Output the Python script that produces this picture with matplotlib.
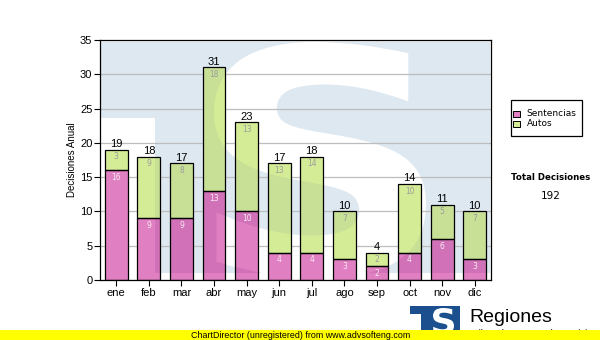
import matplotlib
matplotlib.use("Agg")
import matplotlib.pyplot as plt
import numpy as np
from matplotlib.patches import Rectangle, PathPatch, Polygon
from matplotlib.path import Path
from matplotlib.textpath import TextPath
from matplotlib.font_manager import FontProperties
from matplotlib.transforms import Affine2D

# Monthly decisions
months = ["ene", "feb", "mar", "abr", "may", "jun",
          "jul", "ago", "sep", "oct", "nov", "dic"]
sentencias = [16, 9, 9, 13, 10, 4, 4, 3, 2, 4, 6, 3]
autos = [3, 9, 8, 18, 13, 13, 14, 7, 2, 10, 5, 7]
series_names = ["Sentencias", "Autos"]
y_ticks = [0, 5, 10, 15, 20, 25, 30, 35]

PINK, PINK_D = "#e07fc1", "#d172b8"
GREEN, GREEN_D = "#d5ec97", "#c8e096"
WATER = "#dee8f0"

plt.rcParams["font.family"] = ["Liberation Sans", "DejaVu Sans"]

W, H = 600, 340
fig = plt.figure(figsize=(W / 100, H / 100), dpi=100)
fig.patch.set_facecolor("white")
# pixel coordinates measured from the top-left corner
pxT = Affine2D().scale(1 / W, -1 / H).translate(0, 1) + fig.transFigure


def fx(v):
    return v / W


def fy(v):
    return 1 - v / H


def glyph_in_box(ch, x0, y0, x1, y1, family="DejaVu Sans", weight="bold"):
    tp = TextPath((0, 0), ch, size=100,
                  prop=FontProperties(family=family, weight=weight))
    ext = tp.get_extents()
    v = tp.vertices.copy()
    nv = np.empty_like(v)
    nv[:, 0] = x0 + (v[:, 0] - ext.x0) / ext.width * (x1 - x0)
    nv[:, 1] = y0 + (ext.y1 - v[:, 1]) / ext.height * (y1 - y0)
    return Path(nv, tp.codes)


ax = fig.add_axes([100 / W, (H - 280) / H, 391 / W, 240 / H])
ax.set_facecolor("white")

# "TS" watermark behind the bars
blue_patch = Polygon([(101, 42), (490, 42), (490, 273), (155, 273),
                      (155, 118), (101, 118)], closed=True,
                     transform=pxT, fc=WATER, ec="none", zorder=0.2)
ax.add_patch(blue_patch)
s_patch = PathPatch(glyph_in_box("S", 214, 42, 426, 278), transform=pxT,
                    fc="white", ec="none", zorder=0.3)
ax.add_patch(s_patch)

x = np.arange(len(months))
totals = [s + a for s, a in zip(sentencias, autos)]
bw = 0.70

# base bars, then tinted copies where the watermark shows through
ax.bar(x, sentencias, width=bw, color=PINK, lw=0, zorder=2)
ax.bar(x, autos, bottom=sentencias, width=bw, color=GREEN, lw=0, zorder=2)
d1 = ax.bar(x, sentencias, width=bw, color=PINK_D, lw=0, zorder=2.1)
d2 = ax.bar(x, autos, bottom=sentencias, width=bw, color=GREEN_D, lw=0, zorder=2.1)
for r in list(d1) + list(d2):
    r.set_clip_path(blue_patch)
l1 = ax.bar(x, sentencias, width=bw, color=PINK, lw=0, zorder=2.2)
l2 = ax.bar(x, autos, bottom=sentencias, width=bw, color=GREEN, lw=0, zorder=2.2)
for r in list(l1) + list(l2):
    r.set_clip_path(s_patch)
ax.bar(x, sentencias, width=bw, fill=False, edgecolor="black", lw=0.9, zorder=3)
ax.bar(x, autos, bottom=sentencias, width=bw, fill=False, edgecolor="black",
       lw=0.9, zorder=3)

for i in x:
    ax.annotate(str(totals[i]), (i, totals[i]), xytext=(0, 2),
                textcoords="offset points", ha="center", va="baseline",
                fontsize=8, color="black", zorder=4, annotation_clip=False)
    ax.annotate(str(sentencias[i]), (i, sentencias[i]), xytext=(0, -5.2),
                textcoords="offset points", ha="center", va="center",
                fontsize=5.5, family="DejaVu Sans", color="#f7eaf3", zorder=4)
    ax.annotate(str(autos[i]), (i, totals[i]), xytext=(0, -5.2),
                textcoords="offset points", ha="center", va="center",
                fontsize=5.5, family="DejaVu Sans", color="#9c9c9c", zorder=4)

ax.set_xlim(-0.5, len(months) - 0.5)
ax.set_ylim(0, 35)
ax.set_yticks(y_ticks)
ax.set_xticks(x, months)
ax.set_axisbelow(True)
ax.yaxis.grid(True, color="#bdbdbd", lw=0.9)
ax.tick_params(axis="both", direction="out", length=4, width=0.8,
               labelsize=8, colors="black")
ax.tick_params(axis="y", pad=1.5)
ax.tick_params(axis="x", pad=2)
for sp in ax.spines.values():
    sp.set_color("black")
    sp.set_linewidth(0.9)

fig.text(fx(72), fy(160), "Decisiones Anual", rotation=90, ha="center",
         va="center", fontsize=7)

# legend
fig.add_artist(Rectangle((511, 100), 71, 36, transform=pxT, fill=False,
                         ec="black", lw=0.9))
for name, col, yc in zip(series_names, [PINK, GREEN], [114, 124]):
    fig.add_artist(Rectangle((513, yc - 3.3), 6.6, 6.6, transform=pxT,
                             fc=col, ec="black", lw=0.7))
    fig.text(fx(526.5), fy(yc), name, ha="left", va="center", fontsize=6.5,
             family="DejaVu Sans")

fig.text(fx(551), fy(177.5), "Total Decisiones", ha="center", va="center",
         fontsize=6.2, fontweight="bold", family="DejaVu Sans")
fig.text(fx(551), fy(196.5), str(sum(totals)), ha="center", va="center",
         fontsize=7.5, family="DejaVu Sans")

# footer logo
fig.add_artist(Rectangle((410, 306), 50, 26, transform=pxT, fc="#1b4f8e",
                         ec="none", zorder=1))
fig.add_artist(Rectangle((410, 313.5), 11, 20, transform=pxT, fc="white",
                         ec="none", zorder=1.1))
fig.add_artist(PathPatch(glyph_in_box("S", 433, 308, 454, 334), transform=pxT,
                         fc="white", ec="none", zorder=1.2))
fig.text(fx(469.5), fy(322.5), "Regiones", ha="left", va="baseline",
         fontsize=14, zorder=1)
fig.text(fx(470), fy(335.8), "Tribunal Supremo de Justicia", ha="left",
         va="baseline", fontsize=6.8, zorder=1)

fig.add_artist(Rectangle((0, 330), W, 10, transform=pxT, fc="#ffff00",
                         ec="none", zorder=5))
fig.text(fx(301), fy(335.3), "ChartDirector (unregistered) from www.advsofteng.com",
         ha="center", va="center", fontsize=6.4, zorder=6)

fig.savefig("out.png", dpi=100)
